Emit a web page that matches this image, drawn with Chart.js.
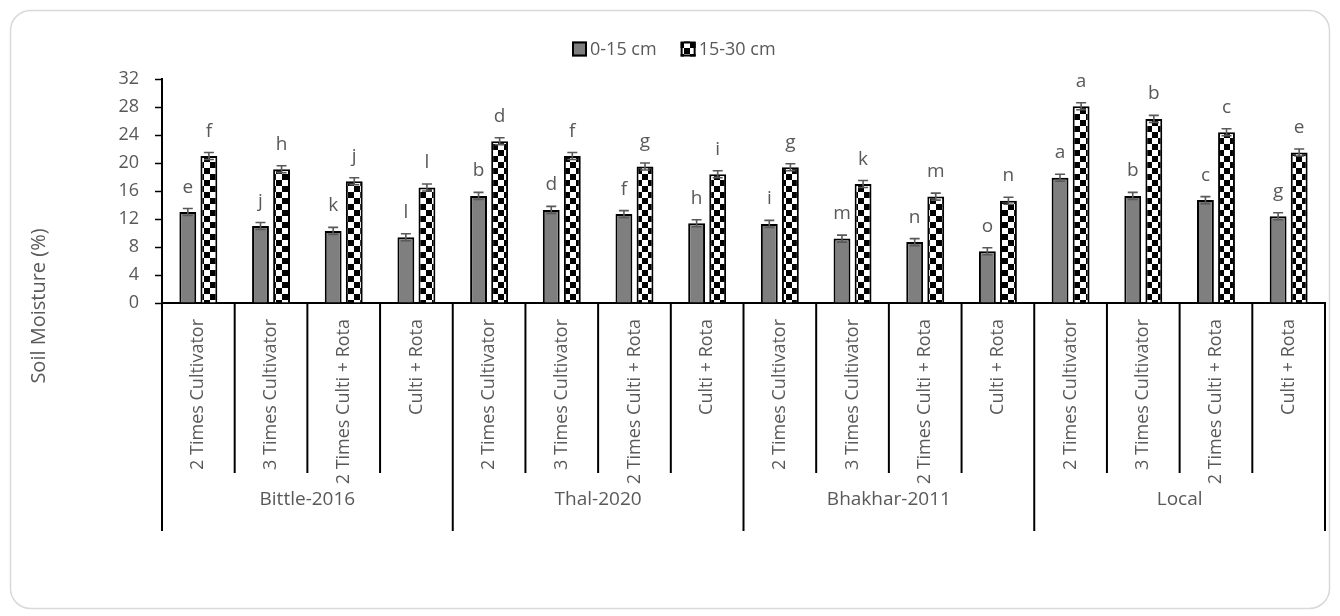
<!DOCTYPE html>
<html>
<head>
<meta charset="utf-8">
<script src="https://cdn.jsdelivr.net/npm/chart.js@4/dist/chart.umd.min.js"></script>
<style>
  html, body { margin: 0; padding: 0; background: #ffffff; }
  #wrap { width: 1340px; height: 616px; position: relative; }
</style>
</head>
<body>
<div id="wrap"><canvas id="chart" width="1340" height="616"></canvas></div>
<script>
// Tillage sites and treatments
const groups = ['Bittle-2016', 'Thal-2020', 'Bhakhar-2011', 'Local'];
const treatments = ['2 Times Cultivator', '3 Times Cultivator', '2 Times Culti + Rota', 'Culti + Rota'];
const categories = [
  '2 Times Cultivator', '3 Times Cultivator', '2 Times Culti + Rota', 'Culti + Rota',
  '2 Times Cultivator', '3 Times Cultivator', '2 Times Culti + Rota', 'Culti + Rota',
  '2 Times Cultivator', '3 Times Cultivator', '2 Times Culti + Rota', 'Culti + Rota',
  '2 Times Cultivator', '3 Times Cultivator', '2 Times Culti + Rota', 'Culti + Rota'
];

// Soil moisture (%) by depth
const moisture0to15  = [13.0, 11.0, 10.3, 9.4, 15.3, 13.3, 12.7, 11.4, 11.3, 9.2, 8.7, 7.4, 17.9, 15.3, 14.7, 12.4];
const moisture15to30 = [21.0, 19.1, 17.4, 16.5, 23.1, 21.0, 19.5, 18.4, 19.4, 17.0, 15.2, 14.6, 28.1, 26.3, 24.4, 21.5];

// Standard errors
const err0to15  = [0.5, 0.5, 0.5, 0.5, 0.5, 0.5, 0.5, 0.5, 0.5, 0.5, 0.5, 0.5, 0.5, 0.5, 0.5, 0.5];
const err15to30 = [0.5, 0.5, 0.5, 0.5, 0.5, 0.5, 0.5, 0.5, 0.5, 0.5, 0.5, 0.5, 0.5, 0.5, 0.5, 0.5];

// Mean separation letters
const letters0to15  = ['e', 'j', 'k', 'l', 'b', 'd', 'f', 'h', 'i', 'm', 'n', 'o', 'a', 'b', 'c', 'g'];
const letters15to30 = ['f', 'h', 'j', 'l', 'd', 'f', 'g', 'i', 'g', 'k', 'm', 'n', 'a', 'b', 'c', 'e'];

// Y axis ticks
const yTicks = [0, 4, 8, 12, 16, 20, 24, 28, 32];

const TEXT = '#595959';
const FONT = "'Open Sans', 'Liberation Sans', sans-serif";

// Black and white checkerboard fill
function checkerPattern(cell) {
  const c = document.createElement('canvas');
  c.width = cell * 2; c.height = cell * 2;
  const g = c.getContext('2d');
  g.fillStyle = '#ffffff'; g.fillRect(0, 0, c.width, c.height);
  g.fillStyle = '#000000';
  g.fillRect(0, 0, cell, cell);
  g.fillRect(cell, cell, cell, cell);
  return g.createPattern(c, 'repeat');
}
const checker = checkerPattern(6);

// Rounded outer frame
const framePlugin = {
  id: 'frame',
  beforeDraw(chart) {
    const ctx = chart.ctx;
    ctx.save();
    ctx.fillStyle = '#ffffff';
    ctx.fillRect(0, 0, chart.width, chart.height);
    ctx.beginPath();
    ctx.roundRect(10.5, 10.5, 1319, 598, 20);
    ctx.strokeStyle = '#d9d9d9';
    ctx.lineWidth = 1.5;
    ctx.stroke();
    ctx.restore();
  }
};

// Legend row: swatch followed closely by its label
const legendPlugin = {
  id: 'legendRow',
  afterDraw(chart) {
    const ctx = chart.ctx;
    ctx.save();
    ctx.font = '18px ' + FONT;
    ctx.textBaseline = 'middle';
    ctx.textAlign = 'left';
    const box = 15, gapText = 3, gapItem = 24, cy = 49;
    const items = chart.data.datasets.map(ds => ({ ds, w: box + gapText + ctx.measureText(ds.label).width }));
    const total = items.reduce((s, it) => s + it.w, 0) + gapItem * (items.length - 1);
    let x = Math.round((chart.width - total) / 2) + 4;
    items.forEach(({ ds, w }) => {
      ctx.fillStyle = ds.backgroundColor;
      ctx.fillRect(x, cy - box / 2, box, box);
      ctx.strokeStyle = '#000000';
      ctx.lineWidth = 2;
      ctx.strokeRect(x + 1, cy - box / 2 + 1, box - 2, box - 2);
      ctx.fillStyle = TEXT;
      ctx.fillText(ds.label, x + box + gapText, cy + 1);
      x += w + gapItem;
    });
    ctx.restore();
  }
};

// Error bars and significance letters
const errorPlugin = {
  id: 'errorBars',
  afterDatasetsDraw(chart) {
    const ctx = chart.ctx;
    const ys = chart.scales.y;
    const errs = [err0to15, err15to30];
    const lets = [letters0to15, letters15to30];
    ctx.save();
    chart.data.datasets.forEach((ds, di) => {
      const meta = chart.getDatasetMeta(di);
      meta.data.forEach((bar, i) => {
        const v = ds.data[i];
        const e = errs[di][i];
        const yTop = ys.getPixelForValue(v + e);
        const yBot = ys.getPixelForValue(v - e);
        const x = bar.x;
        ctx.strokeStyle = TEXT;
        ctx.lineWidth = 1.6;
        ctx.beginPath();
        ctx.moveTo(x, yTop); ctx.lineTo(x, yBot);
        ctx.moveTo(x - 5, yTop); ctx.lineTo(x + 5, yTop);
        ctx.moveTo(x - 5, yBot); ctx.lineTo(x + 5, yBot);
        ctx.stroke();
        ctx.fillStyle = TEXT;
        ctx.font = '19px ' + FONT;
        ctx.textAlign = 'center';
        ctx.textBaseline = 'alphabetic';
        ctx.fillText(lets[di][i], x, yTop - 16);
      });
    });
    ctx.restore();
  }
};

// Category separators, site labels and the value-axis title
const groupAxisPlugin = {
  id: 'groupAxis',
  afterDraw(chart) {
    const ctx = chart.ctx;
    const xs = chart.scales.x;
    const n = categories.length;
    const per = treatments.length;
    const step = xs.getPixelForValue(1) - xs.getPixelForValue(0);
    const top = chart.chartArea.bottom;
    const shortEnd = 473;
    const longEnd = 531;
    ctx.save();
    ctx.strokeStyle = '#000000';
    ctx.lineWidth = 2;
    for (let i = 0; i <= n; i++) {
      const x = xs.getPixelForValue(i) - step / 2;
      ctx.beginPath();
      ctx.moveTo(x, top);
      ctx.lineTo(x, i % per === 0 ? longEnd : shortEnd);
      ctx.stroke();
    }
    ctx.fillStyle = TEXT;
    ctx.font = '19px ' + FONT;
    ctx.textAlign = 'center';
    ctx.textBaseline = 'middle';
    groups.forEach((g, gi) => {
      const x0 = xs.getPixelForValue(gi * per) - step / 2;
      const x1 = xs.getPixelForValue(gi * per + per - 1) + step / 2;
      ctx.fillText(g, (x0 + x1) / 2, 500);
    });
    // value-axis title, centred on the full axis block
    ctx.font = '20px ' + FONT;
    ctx.translate(39, 306);
    ctx.rotate(-Math.PI / 2);
    ctx.fillText('Soil Moisture (%)', 0, 0);
    ctx.restore();
  }
};

new Chart(document.getElementById('chart'), {
  type: 'bar',
  data: {
    labels: categories,
    datasets: [
      {
        label: '0-15 cm',
        data: moisture0to15,
        backgroundColor: '#7f7f7f',
        borderColor: '#000000',
        borderWidth: 2,
        borderSkipped: 'bottom',
        categoryPercentage: 0.58,
        barPercentage: 0.8
      },
      {
        label: '15-30 cm',
        data: moisture15to30,
        backgroundColor: checker,
        borderColor: '#000000',
        borderWidth: 2,
        borderSkipped: 'bottom',
        categoryPercentage: 0.58,
        barPercentage: 0.8
      }
    ]
  },
  options: {
    responsive: false,
    animation: false,
    devicePixelRatio: 1,
    layout: { padding: { top: 79, left: 10, right: 15, bottom: 10 } },
    plugins: {
      legend: { display: false },
      tooltip: { enabled: false }
    },
    scales: {
      x: {
        type: 'category',
        grid: { display: false, drawTicks: false },
        border: { display: true, color: '#000000', width: 2 },
        ticks: {
          color: TEXT,
          font: { family: FONT, size: 18 },
          minRotation: 90,
          maxRotation: 90,
          autoSkip: false,
          padding: 16
        },
        afterFit(scale) { scale.height = 303; }
      },
      y: {
        min: 0,
        max: 32,
        afterBuildTicks(scale) { scale.ticks = yTicks.map(v => ({ value: v })); },
        grid: { display: true, drawOnChartArea: false, drawTicks: true, tickLength: 7, tickColor: '#000000', tickWidth: 1.5 },
        border: { display: true, color: '#000000', width: 2 },
        ticks: {
          color: TEXT,
          font: { family: FONT, size: 18 },
          padding: 16
        },
        afterFit(scale) { scale.width = 152; }
      }
    }
  },
  plugins: [framePlugin, errorPlugin, groupAxisPlugin, legendPlugin]
});
</script>
</body>
</html>
